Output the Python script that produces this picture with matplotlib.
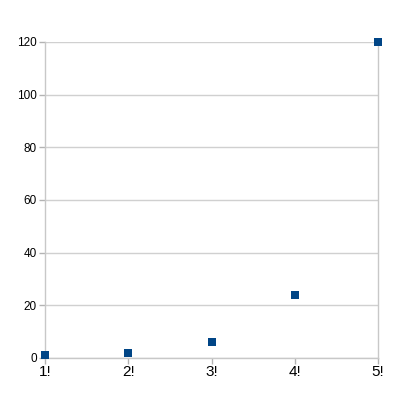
import matplotlib
matplotlib.use("Agg")
import matplotlib.pyplot as plt

plt.rcParams['font.family'] = ['Liberation Sans', 'DejaVu Sans']

x_labels = ["1!", "2!", "3!", "4!", "5!"]
x_vals = [1, 2, 3, 4, 5]
y_vals = [1, 2, 6, 24, 120]
y_ticks = [0, 20, 40, 60, 80, 100, 120]

fig = plt.figure(figsize=(4, 4), dpi=100)
ax = fig.add_axes([0.1125, 0.105, 0.8325, 0.79])
ax.scatter(x_vals, y_vals, marker='s', s=36, color='#004586', zorder=3, clip_on=False, linewidths=0)
ax.set_xlim(1, 5)
ax.set_ylim(0, 120)
ax.set_xticks(x_vals)
ax.set_xticklabels(x_labels, fontsize=11)
ax.set_yticks(y_ticks)
ax.tick_params(axis='y', labelsize=8.5, length=4, color='#b3b3b3', width=1, pad=2)
ax.tick_params(axis='x', length=4, color='#b3b3b3', width=1, pad=1)
ax.grid(axis='y', color='#d0d0d0', linewidth=1)
ax.set_axisbelow(True)
for s in ax.spines.values():
    s.set_color('#c8c8c8')
    s.set_linewidth(1)
ax.spines['top'].set_visible(False)
fig.savefig("out.png", dpi=100)
